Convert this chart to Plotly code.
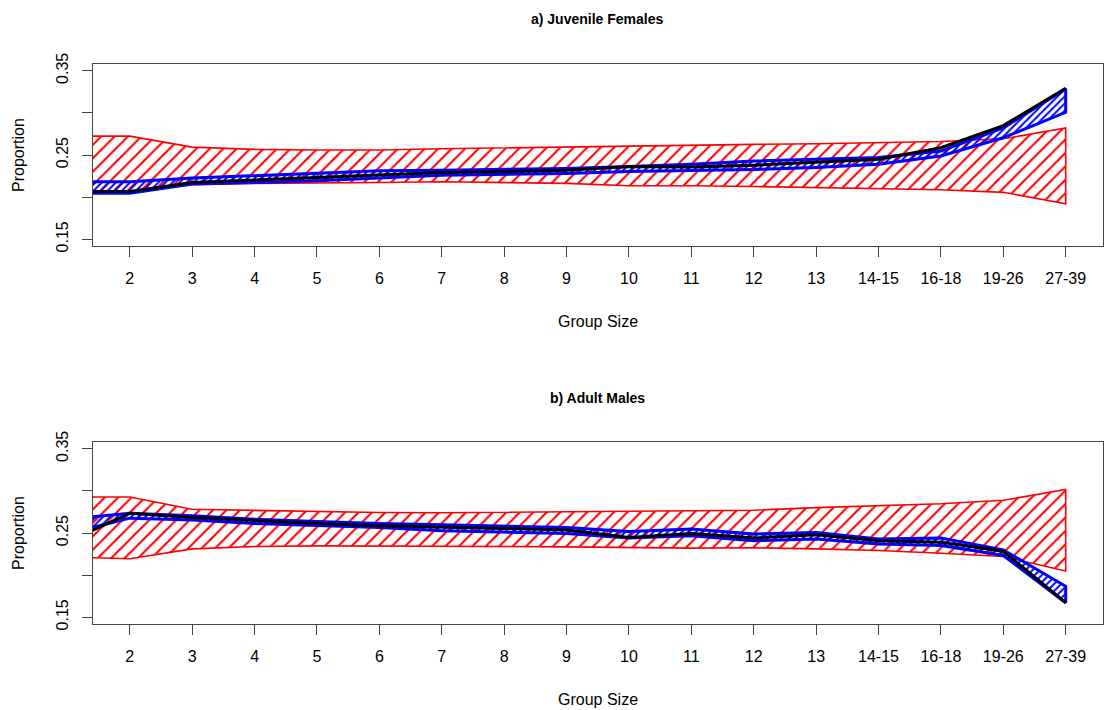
import plotly.graph_objects as go

# Group-size classes (first class sits just left of the visible axis range)
group_sizes = ["1", "2", "3", "4", "5", "6", "7", "8", "9", "10", "11", "12",
               "13", "14-15", "16-18", "19-26", "27-39"]

# a) Juvenile females
null_hi_a = [0.2724, 0.2724, 0.2594, 0.2567, 0.2559, 0.2559, 0.2574, 0.2586, 0.2594,
             0.2602, 0.2614, 0.2626, 0.2634, 0.2645, 0.2661, 0.2692, 0.2821]
null_lo_a = [0.2060, 0.2060, 0.2147, 0.2163, 0.2170, 0.2174, 0.2182, 0.2174, 0.2163,
             0.2135, 0.2135, 0.2127, 0.2112, 0.2104, 0.2088, 0.2057, 0.1920]
obs_hi_a = [0.2182, 0.2182, 0.2226, 0.2253, 0.2280, 0.2312, 0.2320, 0.2330, 0.2340,
            0.2363, 0.2390, 0.2429, 0.2450, 0.2469, 0.2547, 0.2821, 0.3285]
obs_lo_a = [0.2045, 0.2045, 0.2155, 0.2174, 0.2194, 0.2226, 0.2261, 0.2270, 0.2280,
            0.2304, 0.2320, 0.2328, 0.2351, 0.2390, 0.2488, 0.2705, 0.3006]
mean_a = [0.2068, 0.2068, 0.2174, 0.2202, 0.2233, 0.2265, 0.2292, 0.2304, 0.2320,
          0.2363, 0.2359, 0.2379, 0.2418, 0.2450, 0.2586, 0.2849, 0.3292]

# b) Adult males
null_hi_b = [0.2927, 0.2927, 0.2782, 0.2770, 0.2754, 0.2743, 0.2740, 0.2745, 0.2750,
             0.2755, 0.2765, 0.2770, 0.2801, 0.2821, 0.2848, 0.2888, 0.3018]
null_lo_b = [0.2214, 0.2194, 0.2312, 0.2339, 0.2347, 0.2347, 0.2343, 0.2340, 0.2335,
             0.2330, 0.2320, 0.2325, 0.2312, 0.2292, 0.2260, 0.2221, 0.2048]
obs_hi_b = [0.2662, 0.2735, 0.2704, 0.2664, 0.2637, 0.2613, 0.2598, 0.2586, 0.2566,
            0.2519, 0.2547, 0.2488, 0.2507, 0.2429, 0.2440, 0.2300, 0.1868]
obs_lo_b = [0.2490, 0.2676, 0.2653, 0.2613, 0.2586, 0.2566, 0.2527, 0.2515, 0.2495,
            0.2441, 0.2468, 0.2409, 0.2429, 0.2370, 0.2351, 0.2233, 0.1672]
mean_b = [0.2396, 0.2735, 0.2684, 0.2645, 0.2613, 0.2586, 0.2566, 0.2554, 0.2535,
          0.2448, 0.2495, 0.2441, 0.2480, 0.2409, 0.2389, 0.2284, 0.1672]

y_ticks = [0.15, 0.20, 0.25, 0.30, 0.35]
y_tick_text = ["0.15", "", "0.25", "", "0.35"]

positions = list(range(len(group_sizes)))
FONT = "Liberation Sans, Arial, Helvetica, sans-serif"
W, H = 1104, 710

# vertical placement helper: page row (px) -> paper fraction
TOP_PX, SPAN_PX = 10, 693


def py(row):
    return 1 - (row - TOP_PX) / SPAN_PX


def band(hi, lo, color, size, solidity, width, xa, ya):
    return go.Scatter(
        x=positions + positions[::-1],
        y=hi + lo[::-1],
        mode="lines",
        fill="toself",
        fillcolor="rgba(0,0,0,0)",
        fillpattern=dict(shape="/", fgcolor=color, fgopacity=1,
                         bgcolor="rgba(0,0,0,0)", size=size, solidity=solidity),
        line=dict(color=color, width=width),
        xaxis=xa, yaxis=ya, hoverinfo="skip", showlegend=False,
    )


def mean_line(vals, xa, ya):
    return go.Scatter(x=positions, y=vals, mode="lines",
                      line=dict(color="black", width=3),
                      xaxis=xa, yaxis=ya, hoverinfo="skip", showlegend=False)


fig = go.Figure()
fig.add_trace(band(null_hi_a, null_lo_a, "#ff0000", 9.5, 0.22, 1.6, "x", "y"))
fig.add_trace(band(obs_hi_a, obs_lo_a, "#0000ff", 5, 0.4, 3, "x", "y"))
fig.add_trace(mean_line(mean_a, "x", "y"))
fig.add_trace(band(null_hi_b, null_lo_b, "#ff0000", 9.5, 0.22, 1.6, "x2", "y2"))
fig.add_trace(band(obs_hi_b, obs_lo_b, "#0000ff", 5, 0.4, 3, "x2", "y2"))
fig.add_trace(mean_line(mean_b, "x2", "y2"))

x_dom = [93 / W, 1102.5 / W]
top_dom = [py(245), py(63)]
bot_dom = [py(623), py(441)]

xaxis_common = dict(
    range=[0.41, 16.59], tickmode="array", tickvals=positions[1:],
    ticktext=group_sizes[1:], ticks="outside", ticklen=10, tickwidth=1,
    tickcolor="#444", showline=True, linecolor="#444", linewidth=1, mirror=True,
    showgrid=False, zeroline=False, domain=x_dom,
    tickfont=dict(family=FONT, size=16, color="black"), ticklabelstandoff=8,
)
yaxis_common = dict(
    range=[0.142, 0.358], tickmode="array", tickvals=y_ticks, ticktext=y_tick_text,
    ticks="outside", ticklen=10, tickwidth=1, tickcolor="#444", tickangle=-90,
    showline=True, linecolor="#444", linewidth=1, mirror=True,
    showgrid=False, zeroline=False,
    tickfont=dict(family=FONT, size=16, color="black"), ticklabelstandoff=8,
)

fig.update_layout(
    width=W, height=H,
    margin=dict(l=0, r=0, t=0, b=0),
    paper_bgcolor="white", plot_bgcolor="white",
    xaxis=dict(**xaxis_common, anchor="y"),
    yaxis=dict(**yaxis_common, domain=top_dom, anchor="x"),
    xaxis2=dict(**xaxis_common, anchor="y2"),
    yaxis2=dict(**yaxis_common, domain=bot_dom, anchor="x2"),
)

cx = (x_dom[0] + x_dom[1]) / 2


def label(text, x, y, size=16, bold=False, angle=0):
    fig.add_annotation(
        text=f"<b>{text}</b>" if bold else text,
        x=x, y=y, xref="paper", yref="paper", showarrow=False,
        xanchor="center", yanchor="middle", textangle=angle,
        font=dict(family=FONT, size=size, color="black"),
    )


label("a) Juvenile Females", cx, py(18), size=14, bold=True)
label("b) Adult Males", cx, py(397), size=14, bold=True)
label("Group Size", cx, py(321))
label("Group Size", cx, py(698))
label("Proportion", 18 / W, py(154), angle=-90)
label("Proportion", 18 / W, py(532), angle=-90)

fig.write_html("out.html")
